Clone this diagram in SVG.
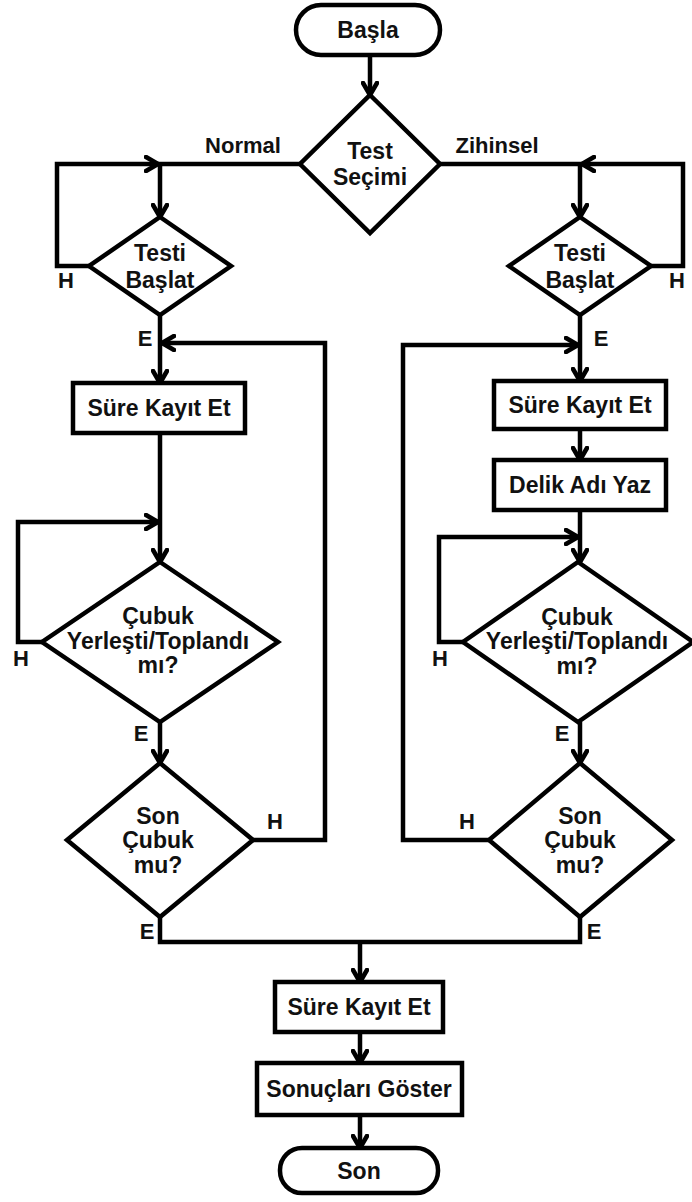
<svg xmlns="http://www.w3.org/2000/svg" width="692" height="1202" viewBox="0 0 692 1202">
<style>
.s{fill:#fff;stroke:#000;stroke-width:4.5}
.c{fill:none;stroke:#000;stroke-width:4.5;stroke-linejoin:miter}
.a{marker-end:url(#ah)}
text{font-family:"Liberation Sans",Arial,sans-serif;font-weight:bold;font-size:23px;fill:#111;text-anchor:middle}
#labels text{font-size:22px}
</style>
<defs>
<marker id="ah" markerUnits="userSpaceOnUse" viewBox="0 0 16 18" refX="14" refY="9" markerWidth="16" markerHeight="18" orient="auto">
<path d="M2,2 L14,9 L2,16" fill="none" stroke="#000" stroke-width="4.5" stroke-linejoin="round" stroke-linecap="round"/>
</marker>
</defs>
<rect width="692" height="1202" fill="#fff"/>
<g id="connectors">
<path class="c a" d="M370,55 V95"/>
<path class="c a" d="M300,164 H160 V217"/>
<path class="c a" d="M89,266 H57 V164 H158"/>
<path class="c a" d="M440,164 H580 V217"/>
<path class="c a" d="M651,266 H683 V164 H582"/>
<path class="c a" d="M160,315 V383"/>
<path class="c a" d="M253,840 H325 V343 H162"/>
<path class="c a" d="M160,433 V562"/>
<path class="c a" d="M42,642 H18 V522 H158"/>
<path class="c a" d="M160,722 V763"/>
<path class="c" d="M160,917 V942 H580 V917"/>
<path class="c a" d="M360,942 V982"/>
<path class="c a" d="M580,315 V381"/>
<path class="c a" d="M489,840 H403 V345 H578"/>
<path class="c a" d="M580,429 V460"/>
<path class="c a" d="M580,510 V562"/>
<path class="c a" d="M463,642 H439 V537 H578"/>
<path class="c a" d="M580,722 V763"/>
<path class="c a" d="M360,1032 V1063"/>
<path class="c a" d="M360,1115 V1148"/>
</g>
<g id="labels">
<text x="243" y="153">Normal</text>
<text x="497" y="153">Zihinsel</text>
<text x="66" y="288">H</text>
<text x="677" y="288">H</text>
<text x="145" y="346">E</text>
<text x="601" y="346">E</text>
<text x="21" y="666">H</text>
<text x="440" y="666">H</text>
<text x="141" y="741">E</text>
<text x="562" y="741">E</text>
<text x="275" y="829">H</text>
<text x="467" y="829">H</text>
<text x="147" y="939">E</text>
<text x="594" y="939">E</text>
</g>
<g id="basla"><rect class="s" x="296" y="5" width="144" height="50" rx="25"/><text x="368" y="38">Başla</text></g>
<g id="test-secimi"><polygon class="s" points="370,95 440,164 370,233 300,164"/><text x="370" y="159">Test</text><text x="370" y="185">Seçimi</text></g>
<g id="testi-baslat-l"><polygon class="s" points="160,217 231,266 160,315 89,266"/><text x="160" y="261">Testi</text><text x="160" y="288">Başlat</text></g>
<g id="testi-baslat-r"><polygon class="s" points="580,217 651,266 580,315 509,266"/><text x="580" y="261">Testi</text><text x="580" y="288">Başlat</text></g>
<g id="sure-l"><rect class="s" x="73" y="383" width="172" height="50"/><text x="159" y="416">Süre Kayıt Et</text></g>
<g id="sure-r"><rect class="s" x="494" y="381" width="172" height="48"/><text x="580" y="413">Süre Kayıt Et</text></g>
<g id="delik"><rect class="s" x="494" y="460" width="172" height="50"/><text x="580" y="493">Delik Adı Yaz</text></g>
<g id="cubuk-l"><polygon class="s" points="160,562 278,642 160,722 42,642"/><text x="158" y="624">Çubuk</text><text x="158" y="649">Yerleşti/Toplandı</text><text x="158" y="673">mı?</text></g>
<g id="cubuk-r"><polygon class="s" points="578,562 693,642 578,722 463,642"/><text x="577" y="625">Çubuk</text><text x="577" y="649">Yerleşti/Toplandı</text><text x="577" y="674">mı?</text></g>
<g id="son-cubuk-l"><polygon class="s" points="160,763 253,840 160,917 67,840"/><text x="158" y="824">Son</text><text x="158" y="848">Çubuk</text><text x="158" y="873">mu?</text></g>
<g id="son-cubuk-r"><polygon class="s" points="580,763 672,840 580,917 489,840"/><text x="580" y="824">Son</text><text x="580" y="848">Çubuk</text><text x="580" y="873">mu?</text></g>
<g id="sure-b"><rect class="s" x="275" y="982" width="168" height="50"/><text x="359" y="1015">Süre Kayıt Et</text></g>
<g id="sonuclar"><rect class="s" x="257" y="1063" width="205" height="52"/><text x="359" y="1097">Sonuçları Göster</text></g>
<g id="son"><rect class="s" x="280" y="1148" width="158" height="45" rx="22"/><text x="359" y="1179">Son</text></g>
</svg>
